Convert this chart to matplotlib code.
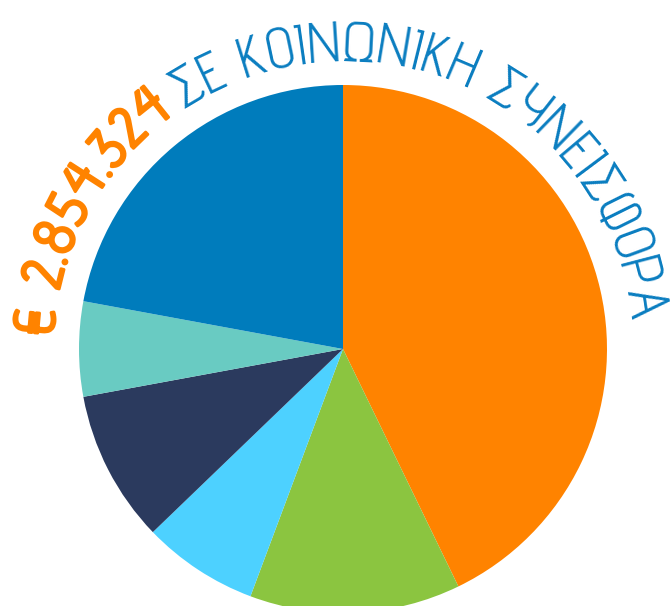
import numpy as np
import matplotlib.pyplot as plt
import matplotlib.patheffects as pe
from matplotlib.font_manager import FontProperties
from matplotlib.textpath import TextToPath

# slice shares, clockwise from 12 o'clock
values = [42.8, 12.9, 7.1, 9.3, 5.8, 22.1]
colors = ['#FF8300', '#8BC540', '#4DD1FF', '#2B3A5E', '#69CBC2', '#007CBC']

amount_text = '€ 2.854.324'
title_text = 'ΣΕ ΚΟΙΝΩΝΙΚΗ ΣΥΝΕΙΣΦΟΡΑ'

W, H = 670, 606
cx, cy, r = 343, H - 349, 264

fig = plt.figure(figsize=(W / 100, H / 100), dpi=100)
ax = fig.add_axes([0, 0, 1, 1])
ax.pie(values, colors=colors, startangle=90, counterclock=False,
       center=(cx, cy), radius=r, wedgeprops=dict(linewidth=0))
ax.set_xlim(0, W)
ax.set_ylim(0, H)
ax.set_aspect('auto')
ax.axis('off')

ttp = TextToPath()


def curved(text, a0, a1, rad, color, prop, effects=None):
    # spread the characters between two angles, by their advance widths
    def w(s):
        return ttp.get_text_width_height_descent(s, prop, ismath=False)[0] if s else 0.0
    centres = [(w(text[:i]) + w(text[:i + 1])) / 2 for i in range(len(text))]
    c0, c1 = centres[0], centres[-1]
    for ch, c in zip(text, centres):
        if ch == ' ':
            continue
        a = a0 + (a1 - a0) * (c - c0) / (c1 - c0)
        t = np.radians(a)
        ax.text(cx + rad * np.cos(t), cy + rad * np.sin(t), ch, color=color,
                fontproperties=prop, rotation=a - 90, rotation_mode='anchor',
                ha='center', va='baseline', path_effects=effects)


orange_font = FontProperties(family='Advent Pro', size=41)
blue_font = FontProperties(family='Advent Pro', size=40)

curved(amount_text, 174.8, 128.6, 290, '#FF8300', orange_font,
       [pe.withStroke(linewidth=2.2, foreground='#FF8300')])
curved(title_text, 120.7, 8.6, 288, '#0A7DC0', blue_font)

fig.savefig('out.png', dpi=100)
